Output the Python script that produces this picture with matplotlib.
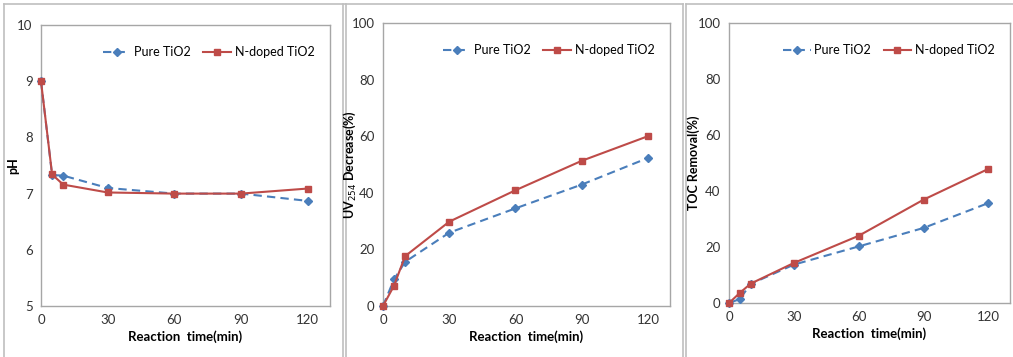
import matplotlib.pyplot as plt
from matplotlib.lines import Line2D

plt.rcParams['font.family'] = ['Lato', 'DejaVu Sans']

time = [0, 5, 10, 30, 60, 90, 120]

ph_pure = [9.0, 7.33, 7.32, 7.10, 7.0, 7.0, 6.87]
ph_ndoped = [9.0, 7.34, 7.16, 7.02, 7.0, 7.0, 7.09]

uv_pure = [0, 9.4, 15.6, 25.9, 34.5, 42.9, 52.3]
uv_ndoped = [0, 7.2, 17.6, 29.8, 40.9, 51.3, 60.0]

toc_pure = [0, 1.4, 6.8, 13.7, 20.2, 26.8, 35.7]
toc_ndoped = [0, 3.6, 6.9, 14.3, 24.0, 36.9, 47.9]

ylabels = ['pH', 'UV$_{254}$ Decrease(%)', 'TOC Removal(%)']
xlabel = 'Reaction  time(min)'
xticks = [0, 30, 60, 90, 120]

blue = '#4a7ebb'
red = '#be4b48'

W, H = 1013, 357
fig = plt.figure(figsize=(W / 100, H / 100), dpi=100)

# panel frames (drawn first, behind the axes)
gray = '#bfbfbf'
frame_lines = [
    ([4, 4], [4, 357]), ([4, 345], [4, 4]), ([343, 343], [4, 357]),
    ([346, 346], [4, 357]), ([346, 683], [4, 4]), ([683, 683], [4, 357]),
    ([686, 686], [4, 357]), ([686, 1013], [4, 4]),
]
for xs, ys in frame_lines:
    fig.add_artist(Line2D([x / W for x in xs], [1 - y / H for y in ys],
                          color=gray, lw=1.2, zorder=0))

# axes boxes in pixels: left, right, top, bottom
boxes = [(41, 330, 25, 306), (383, 670, 23, 306), (729, 1010, 23, 303)]
ylabel_x = [-0.076, -0.088, -0.103]
panels = [
    (ph_pure, ph_ndoped, (5, 10), [5, 6, 7, 8, 9, 10]),
    (uv_pure, uv_ndoped, (0, 100), [0, 20, 40, 60, 80, 100]),
    (toc_pure, toc_ndoped, (0, 100), [0, 20, 40, 60, 80, 100]),
]

for (l, r, t, b), (pure, nd, ylim, yt), ylab, lx in zip(boxes, panels, ylabels, ylabel_x):
    ax = fig.add_axes([l / W, 1 - b / H, (r - l) / W, (b - t) / H])
    ax.plot(time, pure, color=blue, ls=(0, (4, 2.5)), lw=1.5, marker='D',
            ms=4.5, label='Pure TiO2', clip_on=False, zorder=3)
    ax.plot(time, nd, color=red, ls='-', lw=1.5, marker='s', ms=5,
            label='N-doped TiO2', clip_on=False, zorder=4)
    ax.set_xlim(0, 130)
    ax.set_ylim(*ylim)
    ax.set_xticks(xticks)
    ax.set_yticks(yt)
    ax.tick_params(length=0, labelsize=9.5, labelcolor='#333333', pad=6)
    for s in ax.spines.values():
        s.set_color('#a6a6a6')
        s.set_linewidth(1)
    ax.set_xlabel(xlabel, fontsize=9.5, fontweight='bold', labelpad=3)
    ax.set_ylabel(ylab, fontsize=9, fontweight='bold')
    ax.yaxis.set_label_coords(lx, 0.5)
    ax.legend(loc='upper right', ncol=2, frameon=False, fontsize=9,
              handlelength=2.2, columnspacing=1.0, handletextpad=0.3,
              bbox_to_anchor=(0.985, 0.965))

fig.savefig('out.png', dpi=100)
